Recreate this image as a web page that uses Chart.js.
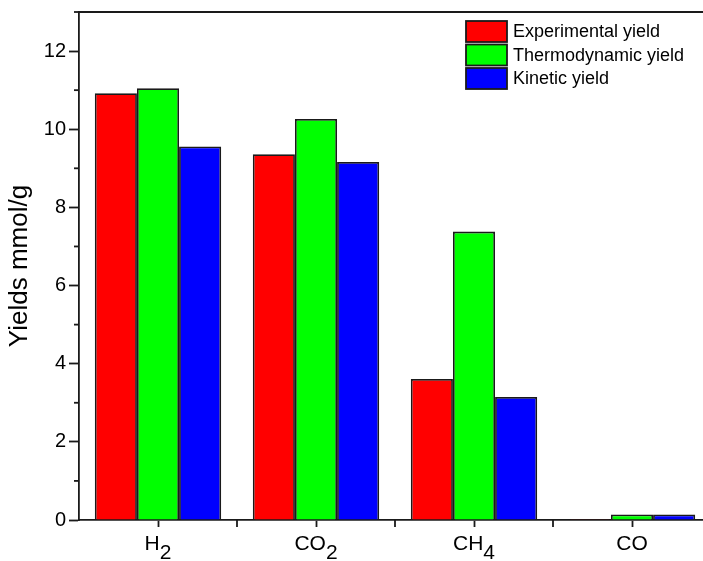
<!DOCTYPE html>
<html>
<head>
<meta charset="utf-8">
<script src="https://cdn.jsdelivr.net/npm/chart.js@4.4.1/dist/chart.umd.min.js"></script>
<style>
    html, body { margin: 0; padding: 0; background: #fff; overflow: hidden; }
    #wrap { width: 712px; height: 561px; position: relative; }
</style>
</head>
<body>
<div id="wrap"><canvas id="chart"></canvas></div>
<script>
// data
const gases = ['H2', 'CO2', 'CH4', 'CO'];
const experimental = [10.92, 9.36, 3.61, 0.02];
const thermodynamic = [11.05, 10.26, 7.38, 0.14];
const kinetic = [9.56, 9.16, 3.15, 0.14];
const yTicks = [0, 2, 4, 6, 8, 10, 12];

const FONT = "'Liberation Sans', Arial, sans-serif";
const AXIS = '#1a1a1a';

// ticks, top frame, formula labels and legend
const extras = {
    id: 'extras',
    afterDraw(chart) {
        const ctx = chart.ctx;
        const area = chart.chartArea;
        const x = chart.scales.x;
        const y = chart.scales.y;
        ctx.save();
        ctx.strokeStyle = AXIS;
        ctx.lineWidth = 1.8;

        // top frame
        ctx.beginPath();
        ctx.moveTo(area.left, area.top);
        ctx.lineTo(area.right, area.top);
        ctx.stroke();

        // minor y ticks
        for (let v = 1; v <= 13; v += 2) {
            const py = y.getPixelForValue(v);
            ctx.beginPath();
            ctx.moveTo(area.left - 5, py);
            ctx.lineTo(area.left, py);
            ctx.stroke();
        }

        // x ticks between categories
        for (let i = 1; i < gases.length; i++) {
            const px = (x.getPixelForTick(i - 1) + x.getPixelForTick(i)) / 2;
            ctx.beginPath();
            ctx.moveTo(px, area.bottom);
            ctx.lineTo(px, area.bottom + 7);
            ctx.stroke();
        }

        // category labels with subscripts
        ctx.fillStyle = '#000';
        ctx.font = '21px ' + FONT;
        ctx.textBaseline = 'alphabetic';
        ctx.textAlign = 'left';
        gases.forEach((g, i) => {
            const w = ctx.measureText(g).width;
            let cx = x.getPixelForTick(i) - w / 2;
            for (const ch of g) {
                const sub = /[0-9]/.test(ch);
                ctx.fillText(ch, cx, sub ? 558.5 : 549.5);
                cx += ctx.measureText(ch).width;
            }
        });

        // legend
        const lx = 466, ly = 21, bw = 41, bh = 21, step = 23.5;
        ctx.font = '18px ' + FONT;
        ctx.textBaseline = 'middle';
        chart.data.datasets.forEach((ds, i) => {
            const top = ly + i * step;
            ctx.fillStyle = ds.backgroundColor;
            ctx.fillRect(lx, top, bw, bh);
            ctx.strokeStyle = AXIS;
            ctx.lineWidth = 1.8;
            ctx.strokeRect(lx, top, bw, bh);
            ctx.fillStyle = '#000';
            ctx.fillText(ds.label, lx + bw + 6, top + bh / 2 + 1);
        });
        ctx.restore();
    }
};

const bar = (label, data, color) => ({
    label,
    data,
    backgroundColor: color,
    borderColor: AXIS,
    borderWidth: 1.8,
    barPercentage: 1,
    categoryPercentage: 0.8,
});

new Chart(document.getElementById('chart'), {
    type: 'bar',
    data: {
        labels: gases,
        datasets: [
            bar('Experimental yield', experimental, '#ff0000'),
            bar('Thermodynamic yield', thermodynamic, '#00ff00'),
            bar('Kinetic yield', kinetic, '#0000ff'),
        ],
    },
    options: {
        responsive: true,
        maintainAspectRatio: false,
        animation: false,
        layout: { padding: { top: 12, left: 0, right: 1, bottom: 0 } },
        plugins: {
            legend: { display: false },
            tooltip: { enabled: false },
        },
        scales: {
            x: {
                offset: true,
                grid: {
                    offset: false,
                    drawOnChartArea: false,
                    tickLength: 7,
                    tickColor: AXIS,
                    tickWidth: 1.8,
                },
                border: { color: AXIS, width: 1.8 },
                ticks: { color: 'rgba(0,0,0,0)', font: { family: FONT, size: 21 } },
                afterFit(scale) {
                    scale.height = 41;
                    scale.paddingLeft = 0;
                    scale.paddingRight = 0;
                },
            },
            y: {
                min: 0,
                max: 13,
                grid: {
                    drawOnChartArea: false,
                    tickLength: 10,
                    tickWidth: 1.8,
                    tickColor: ctx => yTicks.includes(ctx.tick.value) ? AXIS : 'rgba(0,0,0,0)',
                },
                border: { color: AXIS, width: 1.8 },
                ticks: {
                    stepSize: 1,
                    autoSkip: false,
                    padding: 3,
                    color: '#000',
                    font: { family: FONT, size: 20 },
                    callback: v => yTicks.includes(v) ? v : '',
                },
                title: {
                    display: true,
                    text: 'Yields mmol/g',
                    color: '#000',
                    font: { family: FONT, size: 26 },
                    padding: { top: 4, bottom: 0 },
                },
                afterFit(scale) {
                    scale.width = 79;
                    scale.paddingTop = 0;
                    scale.paddingBottom = 0;
                },
            },
        },
    },
    plugins: [extras],
});
</script>
</body>
</html>
